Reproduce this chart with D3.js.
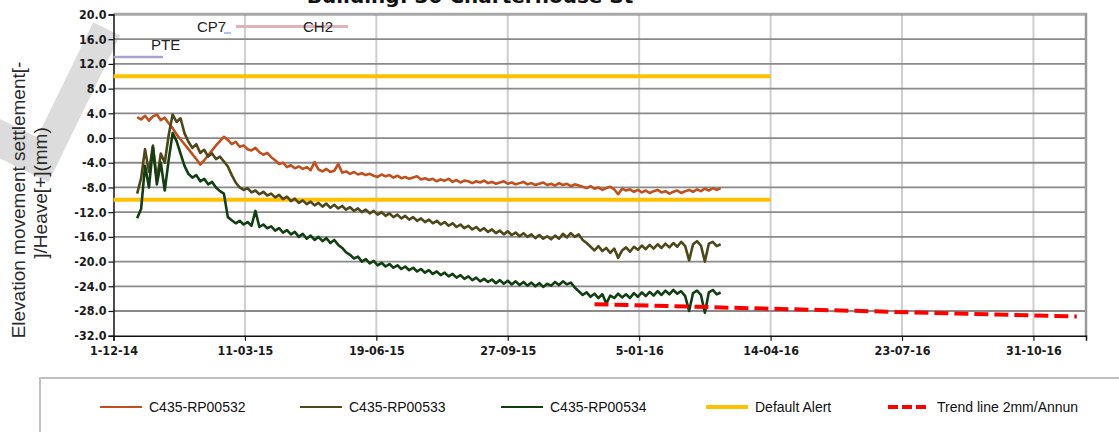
<!DOCTYPE html>
<html>
<head>
<meta charset="utf-8">
<script src="https://cdn.jsdelivr.net/npm/d3@7"></script>
<style>
  html, body { margin: 0; padding: 0; background: #fff; }
  svg { display: block; }
</style>
</head>
<body>
<svg id="chart" width="1119" height="432"></svg>
<script>
// ---------------- DATA ----------------
const chartTitle = "Building: 30 Charterhouse St";
const yLabelLines = ["Elevation movement settlement[-", "]/Heave[+](mm)"];
const seriesNames = ["C435-RP00532", "C435-RP00533", "C435-RP00534"];
const seriesStart = "2014-12-19";   // first reading
const seriesStepDays = 3;           // reading interval

const rp00532 = [
  3.4, 3.0, 3.6, 2.8, 3.5, 3.8, 2.9, 3.3, 2.4, 1.6,
  0.6, -0.2, -1.0, -1.8, -2.6, -3.4, -4.3, -3.6, -2.8, -2.0,
  -1.2, -0.5, 0.2, -0.3, -1.0, -0.6, -1.4, -1.2, -1.8, -2.0,
  -1.6, -2.3, -2.7, -2.4, -3.1, -3.6, -4.2, -4.0, -4.7, -4.4,
  -4.9, -4.6, -5.0, -4.7, -5.2, -3.9, -5.1, -5.4, -5.0, -5.5,
  -5.3, -4.2, -5.6, -5.4, -5.8, -5.5, -5.9, -5.7, -6.0, -5.8,
  -6.1, -6.3, -5.9, -6.2, -6.0, -6.4, -6.1, -6.5, -6.3, -6.6,
  -6.4, -6.2, -6.7, -6.5, -6.8, -6.6, -7.0, -6.7, -6.9, -6.6,
  -7.1, -6.8, -7.2, -6.9, -7.0, -7.3, -7.0, -7.2, -6.9, -7.3,
  -7.1, -7.4, -7.2, -7.0, -7.4, -7.2, -7.5, -7.3, -7.1, -7.5,
  -7.3, -7.6, -7.4, -7.2, -7.6, -7.4, -7.7, -7.3, -7.6, -7.4,
  -7.8, -7.5, -7.7, -7.9, -8.1, -7.8, -8.2, -8.0, -8.4, -8.1,
  -7.9, -8.3, -9.1, -8.2, -8.5, -8.3, -8.7, -8.4, -8.8, -8.5,
  -8.9, -8.6, -8.4, -8.8, -8.6, -9.0, -8.7, -8.5, -8.9, -8.6,
  -8.4, -8.7, -8.3, -8.6, -8.2, -8.5, -8.1, -8.4, -8.1
];
const rp00533 = [
  -9.0, -6.5, -1.8, -5.5, -1.2, -6.8, -2.5, -4.0, 0.5, 3.8,
  2.6, 3.2, 0.8, -0.6, -1.6, -1.0, -2.4, -1.9, -3.0, -2.5,
  -3.4, -3.0, -3.8, -4.6, -6.0, -7.2, -8.0, -8.4, -8.1, -8.8,
  -8.5, -9.1, -8.7, -9.3, -9.0, -9.6, -9.2, -9.9, -9.5, -10.2,
  -9.8, -10.5, -10.1, -10.7, -10.3, -10.9, -10.5, -11.1, -10.6, -11.3,
  -10.8, -11.4, -11.0, -11.6, -11.2, -11.8, -11.4, -12.0, -11.6, -12.2,
  -11.8, -12.4, -12.0, -12.6, -12.2, -12.8, -12.4, -13.0, -12.6, -13.2,
  -12.8, -13.4, -13.0, -13.6, -13.2, -13.8, -13.4, -14.0, -13.6, -14.2,
  -13.8, -14.4, -14.0, -14.6, -14.2, -14.8, -14.4, -15.0, -14.6, -15.2,
  -14.8, -15.4, -15.0, -15.6, -15.1, -15.7, -15.3, -15.9, -15.4, -16.0,
  -15.6, -16.2, -15.7, -16.3, -15.9, -16.4, -15.8, -16.3, -15.5, -16.1,
  -15.4, -16.0, -15.6, -16.5, -17.0, -17.6, -18.2, -17.5, -18.3, -17.8,
  -18.6, -17.9, -19.4, -18.2, -17.7, -18.4, -17.6, -18.1, -17.4, -18.0,
  -17.3, -17.9, -17.2, -17.8, -17.1, -17.7, -17.0, -17.6, -16.8, -17.5,
  -19.8, -17.2, -16.7, -17.4, -20.0, -17.1, -16.8, -17.5, -17.2
];
const rp00534 = [
  -13.0, -11.5, -4.5, -8.0, -1.5, -7.5, -4.0, -8.5, -3.5, 0.8,
  -0.5, -2.5, -4.5, -5.8, -6.4, -6.0, -7.0, -6.6, -7.5, -7.1,
  -8.0, -8.6, -9.0, -12.8, -13.3, -13.8, -13.4, -14.0, -13.6, -14.2,
  -11.8, -14.4, -14.0, -14.6, -14.3, -15.0, -14.6, -15.3, -14.9, -15.6,
  -15.2, -16.0, -15.5, -16.3, -15.8, -16.5, -16.0, -16.7, -16.2, -17.0,
  -16.5, -17.3, -17.8, -18.5, -18.9, -19.5, -19.2, -20.0, -19.6, -20.3,
  -19.9, -20.6, -20.2, -20.8, -20.4, -21.0, -20.6, -21.2, -20.8, -21.4,
  -21.0, -21.6, -21.2, -21.8, -21.4, -22.0, -21.6, -22.2, -21.8, -22.4,
  -22.0, -22.6, -22.2, -22.8, -22.4, -23.0, -22.6, -23.2, -22.8, -23.3,
  -22.9, -23.5, -23.0, -23.6, -23.1, -23.7, -23.2, -23.8, -23.3, -23.9,
  -23.4, -24.0, -23.5, -24.1, -23.6, -23.9, -23.3, -23.8, -23.2, -23.7,
  -23.4, -24.2, -24.8, -25.4, -25.0, -25.7, -25.2, -25.9, -25.3, -26.8,
  -25.5, -25.9, -25.2, -25.8, -25.3, -25.9, -25.1, -25.7, -25.0, -25.6,
  -24.9, -25.5, -24.8, -25.4, -24.7, -25.3, -24.6, -25.2, -24.8, -25.6,
  -28.0, -25.1, -24.7, -25.4, -28.3, -25.0, -24.6, -25.3, -25.0
];

const alertName = "Default Alert";
const alertValues = [10, -10];
const alertDates = ["2014-12-01", "2016-04-14"];

const trendName = "Trend line 2mm/Annun";
const trendDates = ["2015-12-02", "2016-12-03"];
const trendValues = [-26.9, -28.9];

const xDomain = ["2014-12-01", "2016-12-10"];
const xTickDates = ["2014-12-01", "2015-03-11", "2015-06-19", "2015-09-27",
                    "2016-01-05", "2016-04-14", "2016-07-23", "2016-10-31"];
const xTickLabels = ["1-12-14", "11-03-15", "19-06-15", "27-09-15",
                     "5-01-16", "14-04-16", "23-07-16", "31-10-16"];
const yTickValues = [20, 16, 12, 8, 4, 0, -4, -8, -12, -16, -20, -24, -28, -32];
const yTickLabels = ["20.0", "16.0", "12.0", "8.0", "4.0", "0.0", "-4.0", "-8.0",
                     "-12.0", "-16.0", "-20.0", "-24.0", "-28.0", "-32.0"];

// remnants of other charts' legends shown inside the plot
const ghostLabels = ["PTE", "CP7", "CH2"];
const watermarkText = "Le";

// ---------------- STYLE ----------------
const colors = ["#C0501E", "#4D4719", "#113F12"];
const alertColor = "#FFC000";
const trendColor = "#FF0000";

// ---------------- DRAW ----------------
const parse = d3.timeParse("%Y-%m-%d");
const svg = d3.select("#chart");

const plot = { left: 113.5, right: 1086, top: 14.5, bottom: 335.7 };

const x = d3.scaleTime().domain(xDomain.map(parse)).range([plot.left, plot.right]);
const y = d3.scaleLinear().domain([-32, 20]).range([plot.bottom, plot.top]);

// watermark
svg.append("text")
  .attr("transform", "translate(33,214) rotate(-64)")
  .attr("font-family", "DejaVu Sans")
  .attr("font-size", 360)
  .attr("fill", "#dcdcdc")
  .text(watermarkText);

// title (mostly off the top)
svg.append("text")
  .attr("x", 470).attr("y", 3)
  .attr("text-anchor", "middle")
  .attr("font-family", "DejaVu Sans")
  .attr("font-weight", "bold")
  .attr("font-size", 20)
  .attr("fill", "#111")
  .text(chartTitle);

// vertical grid
const xTicks = xTickDates.map(parse);
svg.append("g").selectAll("line").data(xTicks.slice(1)).join("line")
  .attr("x1", d => x(d)).attr("x2", d => x(d))
  .attr("y1", plot.top).attr("y2", plot.bottom)
  .attr("stroke", "#cfcfcf").attr("stroke-width", 2);

// horizontal grid
svg.append("g").selectAll("line").data(yTickValues.filter(v => v > -32)).join("line")
  .attr("x1", plot.left).attr("x2", plot.right)
  .attr("y1", d => y(d)).attr("y2", d => y(d))
  .attr("stroke", "#8a8a8a").attr("stroke-width", 1.8);

// top double border and right border
svg.append("line").attr("x1", plot.left).attr("x2", plot.right + 1)
  .attr("y1", plot.top - 0.5).attr("y2", plot.top - 0.5)
  .attr("stroke", "#a8a8a8").attr("stroke-width", 2.5);
svg.append("line").attr("x1", plot.right).attr("x2", plot.right)
  .attr("y1", plot.top - 1.5).attr("y2", plot.bottom + 1)
  .attr("stroke", "#9a9a9a").attr("stroke-width", 2.5);

// axes
const tickFont = "'DejaVu Sans Condensed', 'DejaVu Sans', sans-serif";
const yAxis = d3.axisLeft(y).tickValues(yTickValues).tickSize(5).tickPadding(2)
  .tickFormat((d, i) => yTickLabels[i]);
const gy = svg.append("g").attr("transform", `translate(${plot.left},0)`).call(yAxis);
gy.select(".domain").attr("stroke", "#111").attr("stroke-width", 1.5);
gy.selectAll(".tick line").attr("stroke", "#111").attr("stroke-width", 1.2);
gy.selectAll(".tick text").attr("font-family", tickFont).attr("font-weight", "bold")
  .attr("font-size", 12.4).attr("fill", "#1a1a1a").attr("font-stretch", "condensed");

const xAxis = d3.axisBottom(x).tickValues(xTicks).tickSize(5).tickPadding(6)
  .tickFormat((d, i) => xTickLabels[i]);
const gx = svg.append("g").attr("transform", `translate(0,${plot.bottom})`).call(xAxis);
gx.select(".domain").attr("stroke", "#111").attr("stroke-width", 1.5);
gx.selectAll(".tick line").attr("stroke", "#111").attr("stroke-width", 1.2);
gx.selectAll(".tick text").attr("font-family", tickFont).attr("font-weight", "bold")
  .attr("font-size", 12.4).attr("fill", "#1a1a1a").attr("font-stretch", "condensed");

// y axis title
yLabelLines.forEach((t, i) => {
  svg.append("text")
    .attr("transform", `translate(${25 + i * 22},${i === 0 ? 200 : 193}) rotate(-90)`)
    .attr("text-anchor", "middle")
    .attr("font-family", "'Liberation Sans', Arial, sans-serif")
    .attr("font-size", 19)
    .attr("fill", "#2a2a2a")
    .text(t);
});

// ghost legend remnants
const ghostFont = "'Liberation Sans', Arial, sans-serif";
svg.append("line").attr("x1", plot.left).attr("x2", 163).attr("y1", 57).attr("y2", 57)
  .attr("stroke", "#aaa3cc").attr("stroke-width", 2.5);
svg.append("text").attr("x", 151).attr("y", 50).attr("font-family", ghostFont)
  .attr("font-size", 15).attr("fill", "#222").text(ghostLabels[0]);
svg.append("text").attr("x", 197).attr("y", 32).attr("font-family", ghostFont)
  .attr("font-size", 15).attr("fill", "#222").text(ghostLabels[1]);
svg.append("line").attr("x1", 224).attr("x2", 231).attr("y1", 33).attr("y2", 33)
  .attr("stroke", "#b0c4e8").attr("stroke-width", 2);
svg.append("line").attr("x1", 236).attr("x2", 348).attr("y1", 26.5).attr("y2", 26.5)
  .attr("stroke", "#dcb4ba").attr("stroke-width", 3);
svg.append("text").attr("x", 303).attr("y", 32).attr("font-family", ghostFont)
  .attr("font-size", 15).attr("fill", "#222").text(ghostLabels[2]);

// alert lines
const alertG = svg.append("g");
alertValues.forEach(v => {
  alertG.append("path")
    .datum(alertDates.map(d => ({ date: parse(d), value: v })))
    .attr("fill", "none").attr("stroke", alertColor).attr("stroke-width", 4)
    .attr("d", d3.line().x(d => x(d.date)).y(d => y(d.value)));
});

// series
const start = parse(seriesStart);
const line = d3.line().x(d => x(d.date)).y(d => y(d.value));
[rp00532, rp00533, rp00534].forEach((vals, k) => {
  const pts = vals.map((v, i) => ({ date: d3.timeDay.offset(start, i * seriesStepDays), value: v }));
  svg.append("path").datum(pts)
    .attr("fill", "none").attr("stroke", colors[k]).attr("stroke-width", 2.6)
    .attr("stroke-linejoin", "round")
    .attr("d", line);
});

// trend line
svg.append("path")
  .datum(trendDates.map((d, i) => ({ date: parse(d), value: trendValues[i] })))
  .attr("fill", "none").attr("stroke", trendColor).attr("stroke-width", 4)
  .attr("stroke-dasharray", "14,6")
  .attr("d", line);

// legend
svg.append("rect").attr("x", 40).attr("y", 378).attr("width", 1100).attr("height", 80)
  .attr("fill", "#fff").attr("stroke", "#c0c0c0").attr("stroke-width", 2);

const legendItems = [
  { name: seriesNames[0], color: colors[0], w: 2, dash: null, x: 100 },
  { name: seriesNames[1], color: colors[1], w: 2, dash: null, x: 300 },
  { name: seriesNames[2], color: colors[2], w: 2, dash: null, x: 501 },
  { name: alertName, color: alertColor, w: 4, dash: null, x: 706 },
  { name: trendName, color: trendColor, w: 4, dash: "10,4", x: 888 }
];
const lg = svg.append("g");
legendItems.forEach(it => {
  lg.append("line").attr("x1", it.x).attr("x2", it.x + 42).attr("y1", 407).attr("y2", 407)
    .attr("stroke", it.color).attr("stroke-width", it.w)
    .attr("stroke-dasharray", it.dash);
  lg.append("text").attr("x", it.x + 49).attr("y", 412)
    .attr("font-family", "'Liberation Sans', Arial, sans-serif")
    .attr("font-size", 14).attr("fill", "#111").text(it.name);
});
</script>
</body>
</html>
